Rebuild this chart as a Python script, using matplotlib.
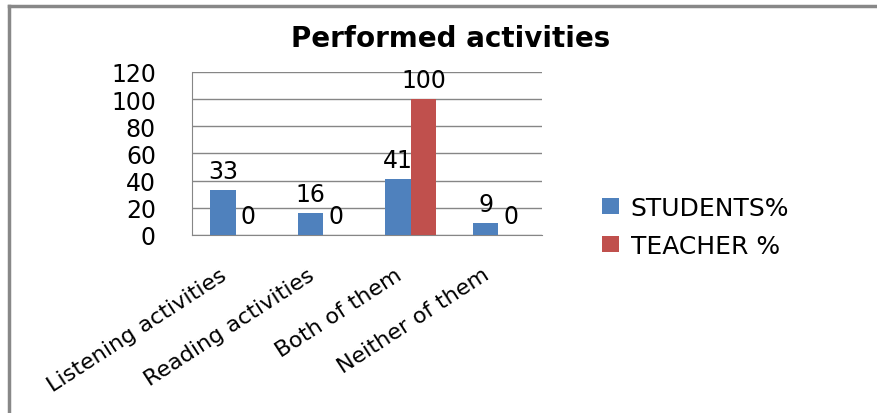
import matplotlib.pyplot as plt
import numpy as np
from matplotlib.lines import Line2D
from matplotlib.transforms import ScaledTranslation

categories = ["Listening activities", "Reading activities", "Both of them", "Neither of them"]
students = [33, 16, 41, 9]
teacher = [0, 0, 100, 0]
series_names = ["STUDENTS%", "TEACHER %"]
y_ticks = [0, 20, 40, 60, 80, 100, 120]

blue = '#4F81BD'
red = '#C0504D'

plt.rcParams['font.family'] = ['DejaVu Sans']

fig = plt.figure(figsize=(8.78, 4.14), dpi=100)
ax = fig.add_axes([0.2187, 0.430, 0.3986, 0.3937])

x = np.arange(len(categories))
w = 0.29
b1 = ax.bar(x - w / 2, students, w, color=blue, label=series_names[0], zorder=3)
b2 = ax.bar(x + w / 2, teacher, w, color=red, label=series_names[1], zorder=3)
ax.bar_label(b1, padding=5, fontsize=17)
ax.bar_label(b2, padding=5, fontsize=17)

ax.set_xlim(-0.5, len(categories) - 0.5)
ax.set_ylim(0, 120)
ax.set_yticks(y_ticks)
ax.tick_params(axis='y', length=0, pad=26, labelsize=17)
ax.yaxis.grid(True, color='#868686', lw=1, zorder=0)

ax.set_xticks(x)
ax.set_xticklabels(categories, rotation=33, ha='right', rotation_mode='anchor', fontsize=16)
ax.tick_params(axis='x', length=0, pad=21)
shift = ScaledTranslation(-16 / 100, 0, fig.dpi_scale_trans)
for lbl in ax.get_xticklabels():
    lbl.set_transform(lbl.get_transform() + shift)

for s in ['top', 'right']:
    ax.spines[s].set_visible(False)
ax.spines['left'].set_color('#868686')
ax.spines['bottom'].set_color('#868686')

fig.text(0.513, 0.905, "Performed activities", ha='center', va='center',
         fontsize=20, fontweight='bold')

fig.legend(loc='center left', bbox_to_anchor=(0.66, 0.45), frameon=False,
           fontsize=18, handlelength=0.7, handleheight=0.6, handletextpad=0.45,
           labelspacing=0.55)

# outer chart frame (top and left edges only)
fig.add_artist(Line2D([0.010, 1.0], [0.984, 0.984], color='#888888', lw=2.5,
                      transform=fig.transFigure))
fig.add_artist(Line2D([0.010, 0.010], [0.0, 0.984], color='#888888', lw=2.5,
                      transform=fig.transFigure))

fig.savefig('out.png', dpi=100)
